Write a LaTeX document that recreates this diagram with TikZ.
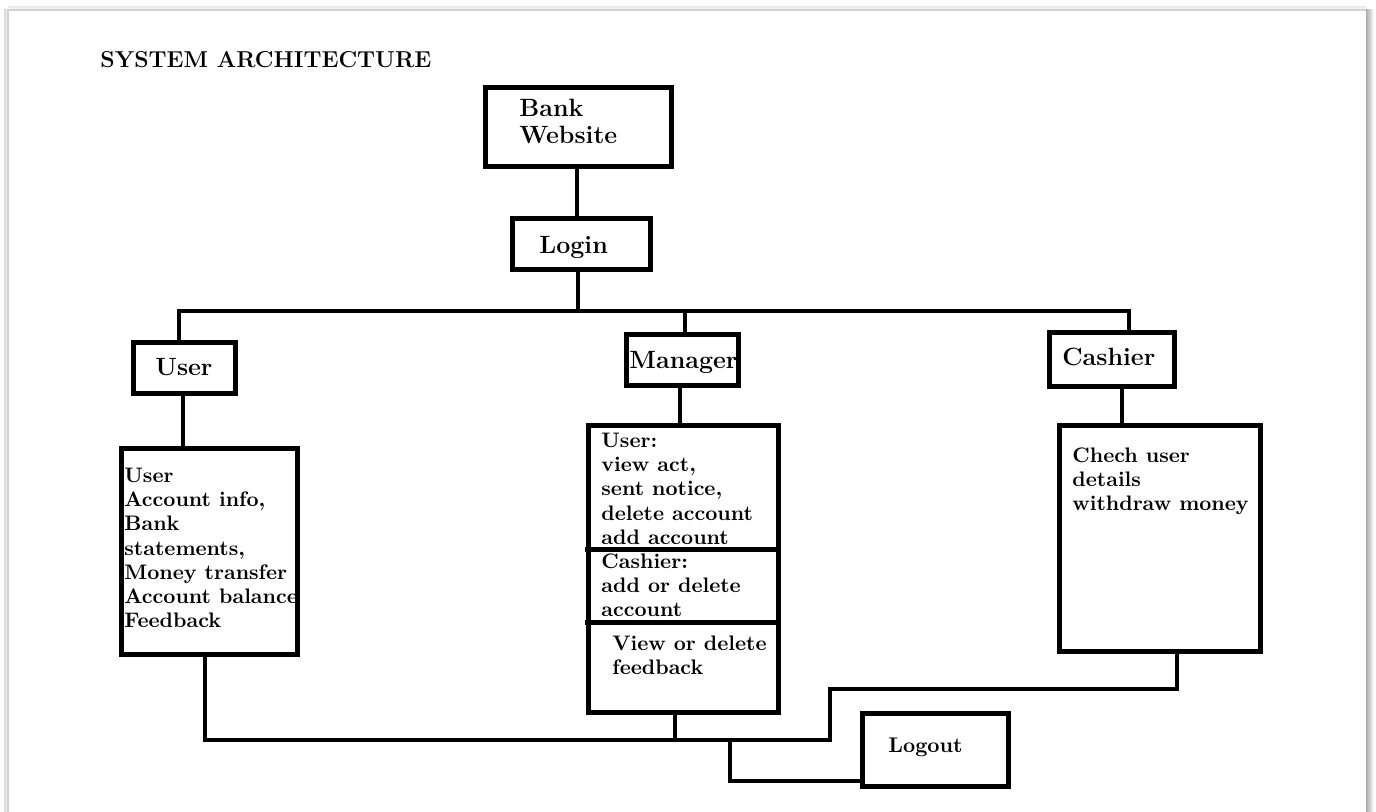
\documentclass[tikz,border=0pt]{standalone}
\begin{document}
\begin{tikzpicture}[x=0.5pt,y=-0.5pt,
  box/.style={draw, line width=2.5pt, inner sep=0pt},
  conn/.style={line width=2.1pt},
  lbl/.style={font=\fontsize{12.5}{15}\selectfont\bfseries, anchor=base west, inner sep=0pt},
  txt/.style={font=\fontsize{10.5}{12.1}\selectfont\bfseries, align=left, anchor=north west, inner sep=0pt}]
\useasboundingbox (0,0) rectangle (1376,812);
\fill[white] (0,0) rectangle (1376,812);
% page frame
\shade[left color=gray!30, right color=white] (4,10) rectangle (9,812);
\shade[top color=gray!15, bottom color=white] (8,7) rectangle (1366,11);
\shade[left color=gray!65, right color=white] (1366,10) rectangle (1374,812);
\draw[gray!35, line width=0.6pt] (8,812) -- (8,10) -- (1366,10);

% title
\node[lbl, font=\fontsize{11.5}{13}\selectfont\bfseries] (title) at (100,68) {SYSTEM ARCHITECTURE};

% boxes
\node[box, minimum width=93pt, minimum height=39.5pt] (bank) at (578.5,127.5) {};
\node[box, minimum width=69pt, minimum height=25.5pt] (login) at (581,244.5) {};
\node[box, minimum width=51pt, minimum height=25.5pt] (user) at (184,368.5) {};
\node[box, minimum width=56pt, minimum height=25.5pt] (manager) at (682,360.5) {};
\node[box, minimum width=62.5pt, minimum height=27pt] (cashier) at (1111.5,360) {};
\node[box, minimum width=88pt, minimum height=103pt] (udet) at (209,551.5) {};
\node[box, minimum width=95pt, minimum height=143pt] (mdet) at (683,569) {};
\node[box, minimum width=100.5pt, minimum height=112.5pt] (cdet) at (1159.5,538.5) {};
\node[box, minimum width=73pt, minimum height=36.5pt] (logout) at (935,749.5) {};

% manager dividers
\draw[line width=2.5pt] (585,549) -- (781,549);
\draw[line width=2.5pt] (585,622) -- (781,622);

% labels
\node[lbl] (tbank) at (519,117) {Bank};
\node[lbl] (tweb) at (519,144) {Website};
\node[lbl] (tlogin) at (539,254) {Login};
\node[lbl] (tuser) at (155,376) {User};
\node[lbl] (tman) at (629,369) {Manager};
\node[lbl] (tcash) at (1062,366) {Cashier};
\node[lbl, font=\fontsize{10.6}{13}\selectfont\bfseries] (tlogout) at (888,752) {Logout};

% detail texts
\node[txt] (tudet) at (124,467.6) {User\\Account info,\\Bank\\statements,\\Money transfer\\Account balance\\Feedback};
\node[txt] (tm1) at (601,432.6) {User:\\view act,\\sent notice,\\delete account\\add account};
\node[txt] (tm2) at (601,553) {Cashier:\\add or delete\\account};
\node[txt] (tm3) at (612,635.6) {View or delete\\feedback};
\node[txt] (tcdet) at (1072,447.4) {Chech user\\details\\withdraw money};

% connectors
\coordinate (busL) at (179,311);
\coordinate (busR) at (1129,311);
\coordinate (cx) at (1122,400);
\draw[conn] (bank.south -| 577,0) -- (login.north -| 577,0);
\draw[conn] (login.south -| 578,0) -- (busL -| 578,0);
\draw[conn] (user.north -| busL) -- (busL) -- (busR) -- (cashier.north -| busR);
\draw[conn] (manager.north -| 685,0) -- (busL -| 685,0);
\draw[conn] (user.south -| 183,0) -- (udet.north -| 183,0);
\draw[conn] (manager.south -| 680,0) -- (mdet.north -| 680,0);
\draw[conn] (cashier.south -| cx) -- (cdet.north -| cx);

\coordinate (j1) at (205,740);
\coordinate (j2) at (830,740);
\coordinate (j3) at (830,689);
\coordinate (j4) at (1177,689);
\coordinate (j5) at (675,740);
\coordinate (j6) at (730,740);
\coordinate (j7) at (730,781);
\draw[conn] (udet.south -| j1) -- (j1) -- (j2) -- (j3) -- (j4) -- (cdet.south -| j4);
\draw[conn] (mdet.south -| j5) -- (j5);
\draw[conn] (j6) -- (j7) -- (logout.west |- j7);
\end{tikzpicture}
\end{document}
